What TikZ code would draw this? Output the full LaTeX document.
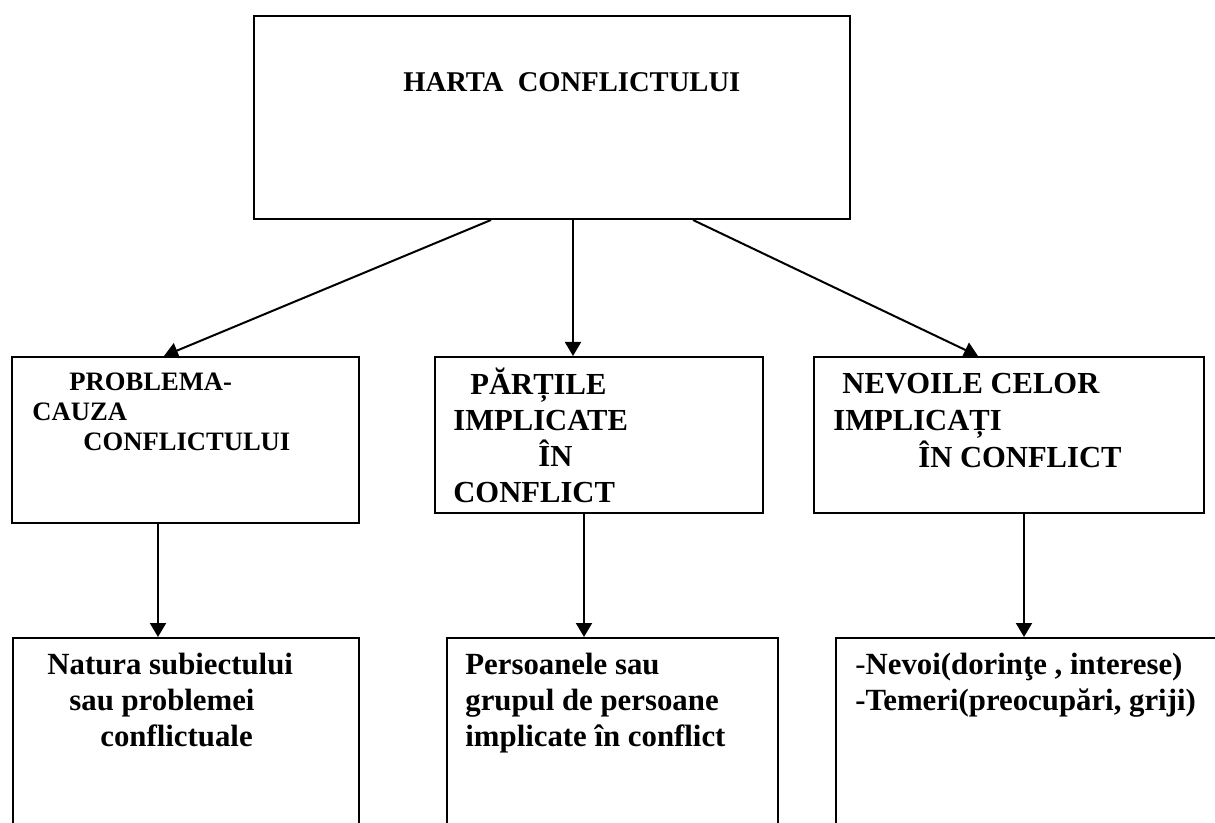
\documentclass[tikz,border=0pt]{standalone}
\usepackage{fontspec}
\setmainfont{Liberation Serif}
\usetikzlibrary{arrows.meta,positioning}

\begin{document}
\begin{tikzpicture}[
        x=0.5pt,y=-0.5pt,
        every node/.style={font=\bfseries},
        boxNode/.style={draw,line width=1pt,inner sep=0pt,anchor=north west},
        txtNode/.style={inner sep=0pt,anchor=north west,align=left},
        arrEdge/.style={draw,line width=1pt,-{Triangle[length=7pt,width=8pt]}}]
        \useasboundingbox (0,0) rectangle (1215,823);
        \clip (0,0) rectangle (1215,823);
        % boxes
        \node[boxNode,minimum width=298pt,minimum height=101.5pt] (harta) at (253,15) {};
        \node[boxNode,minimum width=173.5pt,minimum height=83pt] (cauza) at (11,356) {};
        \node[boxNode,minimum width=164pt,minimum height=78pt] (parti) at (434,356) {};
        \node[boxNode,minimum width=195pt,minimum height=78pt] (nevoi) at (813,356) {};
        \node[boxNode,minimum width=173pt,minimum height=131.5pt] (natura) at (12,637) {};
        \node[boxNode,minimum width=165.5pt,minimum height=131.5pt] (persoane) at (446,637) {};
        \node[boxNode,minimum width=212.5pt,minimum height=131.5pt] (temeri) at (835,637) {};
        % texts
        \node[txtNode,font=\bfseries\fontsize{14.3pt}{17pt}\selectfont] (hartaTxt) at (403,67)
          {\strut HARTA\ \ CONFLICTULUI};
        \node[txtNode,font=\bfseries\fontsize{13.3pt}{15pt}\selectfont] (cauzaTxt) at (32,369)
          {\strut\hspace*{18.5pt}PROBLEMA-\\CAUZA\\\hspace*{25.5pt}CONFLICTULUI};
        \node[txtNode,font=\bfseries\fontsize{15.3pt}{18pt}\selectfont] (partiTxt) at (453,368)
          {\strut\hspace*{8.5pt}PĂRȚILE\\IMPLICATE\\\hspace*{42.5pt}ÎN\\CONFLICT};
        \node[txtNode,font=\bfseries\fontsize{15.3pt}{18.5pt}\selectfont] (nevoiTxt) at (833,367)
          {\strut\hspace*{4.5pt}NEVOILE CELOR\\IMPLICAȚI\\\hspace*{42.5pt}ÎN CONFLICT};
        \node[txtNode,font=\bfseries\fontsize{15.4pt}{18pt}\selectfont] (naturaTxt) at (47,649)
          {\strut Natura subiectului\\\hspace*{11pt}sau problemei\\\hspace*{26.5pt}conflictuale};
        \node[txtNode,font=\bfseries\fontsize{15.4pt}{18pt}\selectfont] (persoaneTxt) at (465,649)
          {\strut Persoanele sau\\grupul de persoane\\implicate în conflict};
        \node[txtNode,font=\bfseries\fontsize{15.4pt}{18pt}\selectfont] (temeriTxt) at (855,649)
          {\strut{\mdseries -}Nevoi(dorinţe , interese)\\-Temeri(preocupări, griji)};
        % arrows
        \draw[arrEdge] ([xshift=-30.5pt]harta.south) -- ([xshift=-10.75pt]cauza.north);
        \draw[arrEdge] ([xshift=10.5pt]harta.south) -- ([xshift=-13pt]parti.north);
        \draw[arrEdge] ([xshift=70.5pt]harta.south) -- ([xshift=-15.5pt]nevoi.north);
        \draw[arrEdge] ([xshift=-13.75pt]cauza.south) -- ([xshift=-14pt]natura.north);
        \draw[arrEdge] ([xshift=-7.5pt]parti.south) -- ([xshift=-14.25pt]persoane.north);
        \draw[arrEdge] ([xshift=7.5pt]nevoi.south) -- ([xshift=-12.25pt]temeri.north);
\end{tikzpicture}
\end{document}
